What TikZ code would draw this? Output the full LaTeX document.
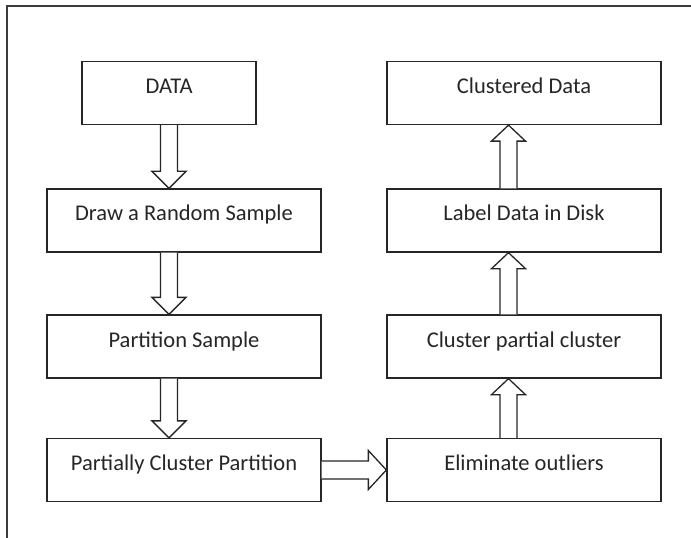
\documentclass[tikz,border=0pt]{standalone}
\usepackage{fontspec}
\setmainfont{Carlito}
\usetikzlibrary{calc}
\definecolor{ink}{HTML}{262626}
\tikzset{
  stepbox/.style={draw=ink, line width=1.3bp, fill=white, inner sep=0pt,
    minimum height=63bp, text height=32bp, text depth=31bp,
    font=\fontsize{22.5bp}{25bp}\selectfont, text=ink},
  wide/.style={minimum width=274bp},
  narrow/.style={minimum width=174bp},
  blk/.style={draw=ink, line width=1.3bp, fill=white, line join=miter},
  frameline/.style={draw=ink!90, line width=1.5bp}
}
% down block arrow: from box #1 to box #2 along the x of coordinate #3
\newcommand\dnblock[3]{%
  \draw[blk] let \p1=(#1.south), \p2=(#2.north), \p3=(#3) in
    (\x3-8.5bp,\y1) -- (\x3-8.5bp,\y2+17bp) -- (\x3-17bp,\y2+17bp) --
    (\x3,\y2) -- (\x3+17bp,\y2+17bp) -- (\x3+8.5bp,\y2+17bp) -- (\x3+8.5bp,\y1);}
% up block arrow: from box #1 to box #2 along the x of coordinate #3
\newcommand\upblock[3]{%
  \draw[blk] let \p1=(#1.north), \p2=(#2.south), \p3=(#3) in
    (\x3-8.5bp,\y1) -- (\x3-8.5bp,\y2-16bp) -- (\x3-17bp,\y2-16bp) --
    (\x3,\y2) -- (\x3+17bp,\y2-16bp) -- (\x3+8.5bp,\y2-16bp) -- (\x3+8.5bp,\y1);}
\begin{document}
\begin{tikzpicture}[x=1bp, y=-1bp]
  \useasboundingbox (0,0) rectangle (691,538);
  \fill[white] (0,0) rectangle (691,538);
  % outer frame
  \draw[frameline] (7,540) -- (7,6) -- (693,6);

  % left column
  \node[stepbox, narrow] (data)   at (169,93)  {DATA};
  \node[stepbox, wide]   (sample) at (184,220.5) {Draw a Random Sample};
  \node[stepbox, wide]   (part)   at (184,346.5) {Partition Sample};
  \node[stepbox, wide]   (pcp)    at (184,470) {Partially Cluster Partition};

  % right column
  \node[stepbox, wide] (done)  at (524,93)  {Clustered Data};
  \node[stepbox, wide] (label) at (524,220.5) {Label Data in Disk};
  \node[stepbox, wide] (cpc)   at (524,346.5) {Cluster partial cluster};
  \node[stepbox, wide] (elim)  at (524,470) {Eliminate outliers};

  \coordinate (lx) at (169,0);
  \coordinate (rx) at (508.5,0);

  \dnblock{data}{sample}{lx}
  \dnblock{sample}{part}{lx}
  \dnblock{part}{pcp}{lx}

  \upblock{elim}{cpc}{rx}
  \upblock{cpc}{label}{rx}
  \upblock{label}{done}{rx}

  % sideways block arrow between the columns
  \draw[blk] let \p1=(pcp.east), \p2=(elim.west) in
    (\x1,\y1-9bp) -- (\x2-18bp,\y1-9bp) -- (\x2-18bp,\y1-19.5bp) --
    (\x2,\y1) -- (\x2-18bp,\y1+19.5bp) -- (\x2-18bp,\y1+9bp) -- (\x1,\y1+9bp);
\end{tikzpicture}
\end{document}
